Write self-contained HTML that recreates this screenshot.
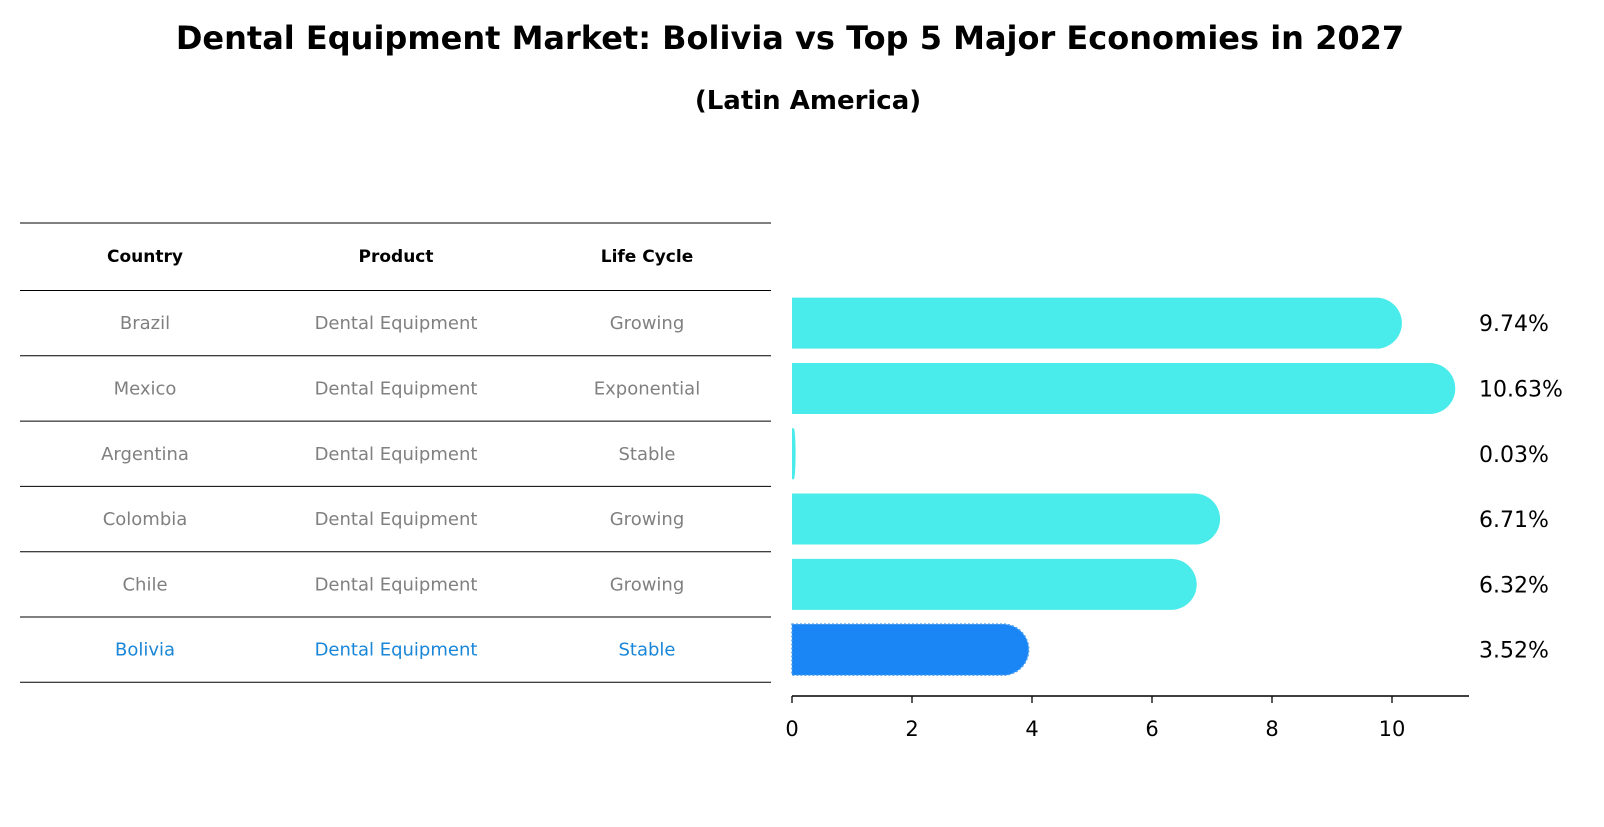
<!DOCTYPE html>
<html><head><meta charset="utf-8"><style>
body{margin:0;background:#fff;font-family:"DejaVu Sans","Liberation Sans",sans-serif;}
svg text{font-family:"DejaVu Sans","Liberation Sans",sans-serif;}
</style></head><body>
<svg id="c" width="1604" height="823" xmlns="http://www.w3.org/2000/svg">
<text x="790" y="49" text-anchor="middle" font-size="32" font-weight="bold">Dental Equipment Market: Bolivia vs Top 5 Major Economies in 2027</text>
<text x="808" y="109" text-anchor="middle" font-size="26" font-weight="bold">(Latin America)</text>
<g id="table"></g>
<g id="bars"></g>
</svg>
<script>
const countries=["Brazil","Mexico","Argentina","Colombia","Chile","Bolivia"];
const products=["Dental Equipment","Dental Equipment","Dental Equipment","Dental Equipment","Dental Equipment","Dental Equipment"];
const lifecycles=["Growing","Exponential","Stable","Growing","Growing","Stable"];
const values=[9.74,10.63,0.03,6.71,6.32,3.52];
const ticks=[0,2,4,6,8,10];
const NS="http://www.w3.org/2000/svg";
function mk(t,a,p){const e=document.createElementNS(NS,t);for(const k in a)e.setAttribute(k,a[k]);p.appendChild(e);return e;}
const tbl=document.getElementById('table'),bars=document.getElementById('bars');
const x0=792,pxu=60,rowH=65.3,top0=290.5,cols=[145,396,647];
const xs=v=>x0+v*pxu;
const yc=i=>top0+rowH*(i+0.5);
// table
let l=mk('line',{x1:20,x2:771,y1:223,y2:223,stroke:'#000','stroke-width':1},tbl);

["Country","Product","Life Cycle"].forEach((h,j)=>{const t=mk('text',{x:cols[j],y:262,'text-anchor':'middle','font-size':17,'font-weight':'bold'},tbl);t.textContent=h;
});
for(let i=0;i<=countries.length;i++){const ln=mk('line',{x1:20,x2:771,y1:top0+rowH*i,y2:top0+rowH*i,stroke:'#000','stroke-width':1},tbl);
}
countries.forEach((c,i)=>{const col=c==="Bolivia"?'#1a86d8':'#808080';
[c,products[i],lifecycles[i]].forEach((s,j)=>{const t=mk('text',{x:cols[j],y:yc(i)+6,'text-anchor':'middle','font-size':18,fill:col},tbl);t.textContent=s;
});});
// bars
const bh=51;
values.forEach((v,i)=>{const w=v*pxu,r=Math.min(bh/2,w),y=yc(i)-bh/2;
const bol=countries[i]==="Bolivia";
const d=`M${x0},${y} H${x0+w} A${r},${bh/2} 0 0 1 ${x0+w},${y+bh} H${x0} Z`;
const p=mk('path',{d:d,fill:bol?'#1a86f5':'#4aeceb'},bars);
if(bol){p.setAttribute('stroke','#4a9cf0');p.setAttribute('stroke-dasharray','2,2');p.setAttribute('stroke-width','1.5');}

const t=mk('text',{x:1479,y:yc(i)+8,'font-size':22},bars);t.textContent=v.toFixed(2)+'%';
});
const ax=mk('line',{x1:x0,x2:1469,y1:696,y2:696,stroke:'#000','stroke-width':1.6},bars);

ticks.forEach(v=>{const tk=mk('line',{x1:xs(v),x2:xs(v),y1:696,y2:703,stroke:'#000','stroke-width':1.3},bars);

const t=mk('text',{x:xs(v),y:736,'text-anchor':'middle','font-size':21},bars);t.textContent=v;
});
</script>
</body></html>
